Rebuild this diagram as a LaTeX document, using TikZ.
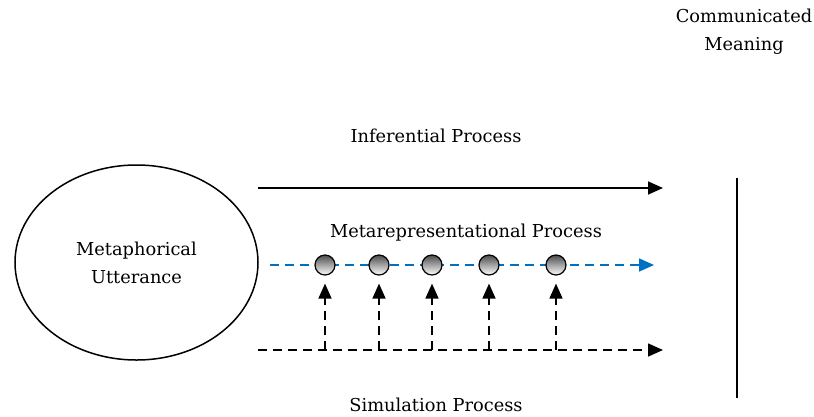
\documentclass[tikz,border=0pt]{standalone}
\usepackage{fontspec}
\setmainfont{DejaVu Serif}
\usetikzlibrary{arrows.meta,shapes.geometric}
\definecolor{metablue}{RGB}{0,112,192}

\begin{document}
\begin{tikzpicture}[x=1pt,y=-1pt,
  lbl/.style={font=\fontsize{17.8}{28}\selectfont, align=center},
  flow/.style={line width=1.6pt, -{Triangle[length=15pt,width=13pt]}},
  dashflow/.style={flow, dash pattern=on 9pt off 6pt},
  bead/.style={circle, draw, line width=1.2pt, minimum size=20pt, inner sep=0pt,
    top color=black!70, bottom color=white}]
\useasboundingbox (0,0) rectangle (814,416);
% \draw[help lines, step=50] (0,0) grid (814,416);
\coordinate (inf-s) at (258,188);
\coordinate (inf-e) at (663,188);
\coordinate (met-s) at (270,265);
\coordinate (met-e) at (654,265);
\coordinate (sim-s) at (258,350);
\coordinate (sim-e) at (663,350);
\coordinate (bar-t) at (737,178);
\coordinate (bar-b) at (737,398);
\node[draw, ellipse, line width=1.5pt, minimum width=243, minimum height=195, lbl] (utt) at (136.5,262.5) {Metaphorical\\Utterance};
\draw[flow] (inf-s) -- (inf-e);
\draw[dashflow, metablue] (met-s) -- (met-e);
\draw[dashflow] (sim-s) -- (sim-e);
\draw[line width=1.6pt] (bar-t) -- (bar-b);
\foreach \x [count=\i] in {325,379,432,489,556} {
  \node[bead] (b\i) at (\x,265) {};
  \coordinate (s\i) at (\x,350);
  \draw[dashflow, shorten >=8pt] (s\i) -- (b\i.south);
}
\node[lbl] (inf) at (436,136) {Inferential Process};
\node[lbl] (met) at (466,233) {Metarepresentational Process};
\node[lbl] (sim) at (436,405) {Simulation Process};
\node[lbl] (cm) at (744,32) {Communicated\\Meaning};
\end{tikzpicture}
\end{document}
